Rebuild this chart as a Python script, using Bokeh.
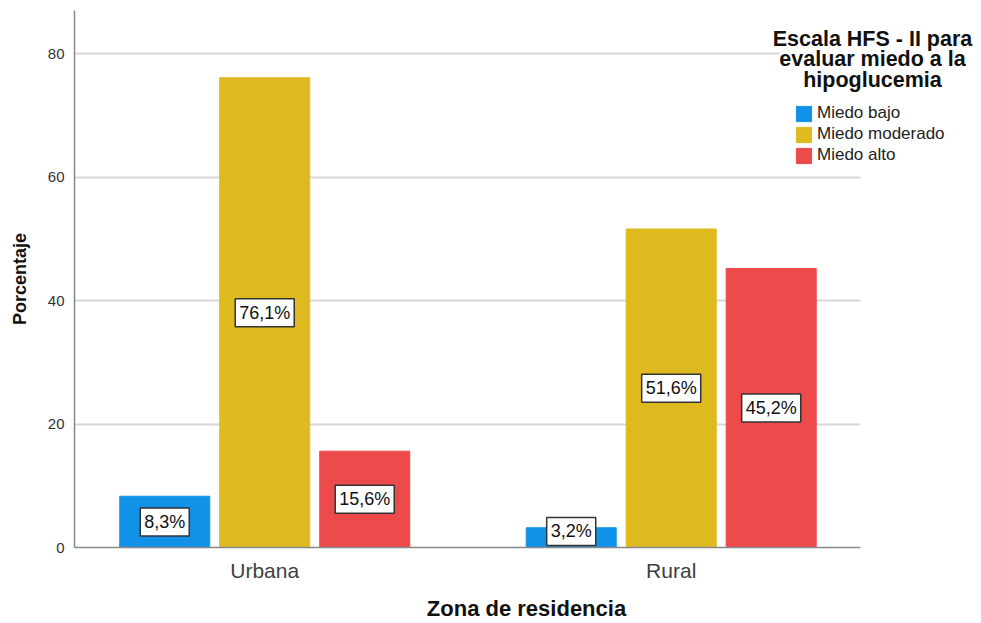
import numpy as np
from bokeh.plotting import figure
from bokeh.models import (ColumnDataSource, Range1d, Legend, LegendItem,
                          Label, SingleIntervalTicker, FixedTicker)
from bokeh.embed import file_html
from bokeh.resources import INLINE

# ---- data ----
zonas = ["Urbana", "Rural"]
niveles = ["Miedo bajo", "Miedo moderado", "Miedo alto"]
miedo_bajo = [8.3, 3.2]
miedo_moderado = [76.1, 51.6]
miedo_alto = [15.6, 45.2]
colores = ["#1192E8", "#DFBA1F", "#EC4A4B"]
titulo_leyenda = ["Escala HFS - II para", "evaluar miedo a la", "hipoglucemia"]

series = [miedo_bajo, miedo_moderado, miedo_alto]
offsets = [-0.246, 0.0, 0.246]
bar_w = 0.2215
x_lo, x_axis_hi, x_hi = -0.468, 1.466, 1.756
FONT = "Liberation Sans"

idx = np.arange(len(zonas))

p = figure(x_range=Range1d(x_lo, x_hi), y_range=Range1d(0, 87), width=978, height=623,
           output_backend="svg", toolbar_location=None,
           min_border_left=74, min_border_right=0, min_border_top=10, min_border_bottom=76)
p.outline_line_color = None
p.background_fill_color = "white"
p.border_fill_color = "white"

renderers = []
for nivel, vals, off, col in zip(niveles, series, offsets, colores):
    vals = np.array(vals)
    src = ColumnDataSource(dict(x=idx + off, val=vals))
    r = p.vbar(x="x", top="val", width=bar_w, source=src,
               fill_color=col, line_color=col, line_width=1)
    renderers.append(r)
    for xi, v in zip(idx + off, vals):
        p.add_layout(Label(x=xi, y=max(v / 2, 2.6),
                           text=f"{v:.1f}%".replace(".", ","),
                           text_align="center", text_baseline="middle",
                           text_font=FONT, text_font_size="18px", text_color="#111111",
                           background_fill_color="white", border_line_color="#333333",
                           border_line_width=1.5, padding=4))

# axes
p.xaxis.ticker = FixedTicker(ticks=list(idx))
p.xaxis.major_label_overrides = {int(i): z for i, z in zip(idx, zonas)}
p.xaxis.bounds = (x_lo, x_axis_hi)
p.yaxis.ticker = SingleIntervalTicker(interval=20)
p.ygrid.grid_line_color = "#d8d8d8"
p.ygrid.grid_line_width = 2
p.ygrid.cross_bounds = (x_lo, x_axis_hi)
p.xgrid.grid_line_color = None

for ax in (p.xaxis[0], p.yaxis[0]):
    ax.axis_line_color = "#888888"
    ax.axis_line_width = 1.5
    ax.major_tick_line_color = None
    ax.minor_tick_line_color = None
    ax.major_tick_out = 0
    ax.major_tick_in = 0
    ax.major_label_text_font = FONT
    ax.axis_label_text_font = FONT
    ax.axis_label_text_font_style = "bold"
    ax.axis_label_text_color = "#111111"

p.yaxis.major_label_text_font_size = "15px"
p.yaxis.major_label_text_color = "#333333"
p.yaxis.major_label_standoff = 6
p.yaxis.axis_label = "Porcentaje"
p.yaxis.axis_label_text_font_size = "18px"
p.yaxis.axis_label_standoff = 15

p.xaxis.major_label_text_font_size = "21px"
p.xaxis.major_label_text_color = "#404040"
p.xaxis.major_label_standoff = 11
p.xaxis.axis_label = "Zona de residencia"
p.xaxis.axis_label_text_font_size = "22px"
p.xaxis.axis_label_standoff = 11

# legend
legend = Legend(items=[LegendItem(label=n, renderers=[r]) for n, r in zip(niveles, renderers)],
                location=(720, 382), orientation="vertical",
                glyph_width=19, glyph_height=19, label_standoff=4, spacing=1,
                padding=0, margin=0, border_line_color=None, background_fill_alpha=0,
                label_text_font=FONT, label_text_font_size="17px", label_text_color="#222222",
                label_height=19)
p.add_layout(legend)

# legend title: middle line (with white backing that hides the grid line) drawn first
for i in (1, 0, 2):
    p.add_layout(Label(x=798, y=509 - 20.5 * i, x_units="screen", y_units="screen",
                       text=titulo_leyenda[i],
                       text_align="center", text_baseline="alphabetic",
                       text_font=FONT, text_font_style="bold", text_font_size="21.5px",
                       text_color="#111111",
                       background_fill_color="white" if i == 1 else None))

open("out.html", "w").write(file_html(p, INLINE))
